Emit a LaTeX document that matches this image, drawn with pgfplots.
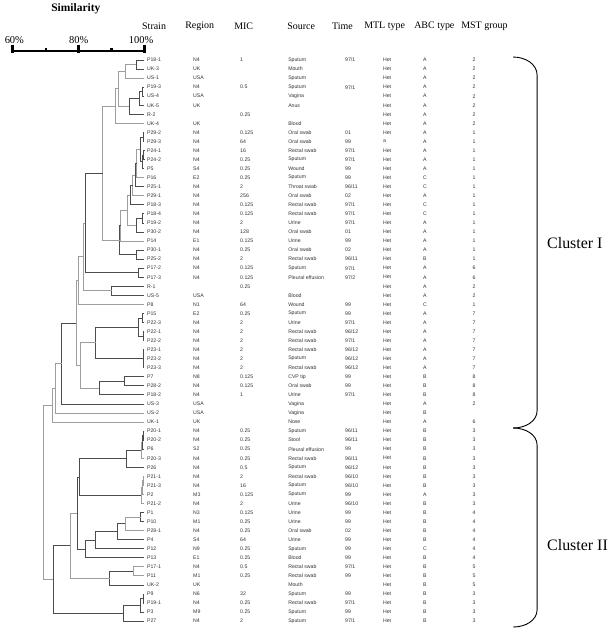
\documentclass[border=0pt]{standalone}
\usepackage{pgfplots}
\pgfplotsset{compat=1.18}
\usepackage{fontspec}
\setmainfont{Liberation Serif}
\newfontfamily\arialfont{Liberation Sans}
\definecolor{dk}{gray}{0.3}
\definecolor{lt}{gray}{0.62}
\newcommand{\nd}[6]{\addplot[#1, line width=0.8bp] coordinates {(#2,#3) (#4,#3) (#4,#5) (#6,#5)};}
\newcommand{\trow}[9]{%
\node[T] at (axis cs:100.8,#1) {#2};
\node[T] at (axis cs:114.8,#1) {#3};
\node[T] at (axis cs:129.1,#1) {#4};
\node[T] at (axis cs:143.7,#1) {#5};
\node[T] at (axis cs:161.0,#1) {#6};
\node[T] at (axis cs:172.5,#1) {#7};
\node[TC] at (axis cs:185.3,#1) {#8};
\node[TC] at (axis cs:200.2,#1) {#9};
}
\begin{document}
\begin{tikzpicture}[
  T/.style={anchor=west, inner sep=0pt, font=\fontsize{5.2}{6}\selectfont\arialfont, text=black!80},
  TC/.style={anchor=center, inner sep=0pt, font=\fontsize{5.2}{6}\selectfont\arialfont, text=black!80},
  H/.style={anchor=west, inner sep=0pt, font=\fontsize{10}{12}\selectfont}]
\begin{axis}[
  width=608bp, height=632bp, scale only axis,
  hide axis, clip=false,
  xmin=56.14, xmax=240.94,
  ymin=-5.63, ymax=64.2, y dir=reverse]
\path (rel axis cs:0,0) (rel axis cs:1,1);
% scale bar
\addplot[black, line width=2.7bp] coordinates {(60,0) (100,0)};
\addplot[black, line width=2.9bp] coordinates {(60,-0.7) (60,0.2)};
\addplot[black, line width=2.9bp] coordinates {(80,-0.7) (80,0.2)};
\addplot[black, line width=2.9bp] coordinates {(100,-0.7) (100,0.2)};
\addplot[black, line width=2.2bp] coordinates {(70,-0.35) (70,0.1)};
\addplot[black, line width=2.2bp] coordinates {(90,-0.35) (90,0.1)};
\node[font=\bfseries\fontsize{11.5}{13}\selectfont] at (axis cs:79.2,-4.64) {Similarity};
\node[font=\fontsize{10.5}{12}\selectfont] at (axis cs:60.5,-1.21) {60\%};
\node[font=\fontsize{10.5}{12}\selectfont] at (axis cs:80.1,-1.21) {80\%};
\node[font=\fontsize{10.5}{12}\selectfont] at (axis cs:99.0,-1.21) {100\%};
% headers
\node[H] at (axis cs:99.3,-2.76) {Strain};
\node[H] at (axis cs:112.4,-2.76) {Region};
\node[H] at (axis cs:127.3,-2.76) {MIC};
\node[H] at (axis cs:143.4,-2.76) {Source};
\node[H] at (axis cs:157.0,-2.76) {Time};
\node[H] at (axis cs:166.8,-2.76) {MTL type};
\node[H] at (axis cs:182.0,-2.76) {ABC type};
\node[H] at (axis cs:196.3,-2.76) {MST group};
% dendrogram
\nd{dk}{100}{1}{97.5}{2}{100}
\nd{lt}{97.5}{1.5}{94.3}{3}{100}
\nd{dk}{100}{4}{99.3}{5}{100}
\nd{dk}{99.3}{4.5}{98.4}{6}{100}
\nd{dk}{98.4}{5.25}{95.5}{7}{100}
\nd{lt}{94.3}{2.25}{92.0}{6.125}{95.5}
\nd{lt}{92.0}{4.1875}{91.2}{8}{100}
\nd{dk}{100}{9}{99.6}{10}{100}
\nd{dk}{100}{11}{99.8}{12}{100}
\nd{dk}{99.8}{11.5}{99.4}{13}{100}
\nd{dk}{99.6}{9.5}{98.8}{12.25}{99.4}
\nd{lt}{98.8}{10.875}{97.7}{14}{100}
\nd{dk}{97.7}{12.4375}{97.2}{15}{100}
\nd{lt}{97.2}{13.72}{96.5}{16}{100}
\nd{dk}{96.5}{14.86}{95.8}{17}{100}
\nd{dk}{100}{18}{99.3}{19}{100}
\nd{dk}{99.3}{18.5}{97.5}{20}{100}
\nd{lt}{95.8}{15.93}{95.0}{19.25}{97.5}
\nd{lt}{95.0}{17.59}{92.8}{21}{100}
\nd{dk}{100}{22}{97.6}{23}{100}
\nd{dk}{92.8}{19.3}{92.5}{22.5}{97.6}
\nd{lt}{91.2}{6.094}{87.4}{20.9}{92.5}
\nd{dk}{100}{24}{98.3}{25}{100}
\nd{dk}{87.4}{13.5}{82.1}{24.5}{98.3}
\nd{dk}{100}{26}{90.1}{27}{100}
\nd{lt}{82.1}{19.0}{81.4}{26.5}{90.1}
\nd{lt}{81.4}{22.75}{79.9}{28}{100}
\nd{dk}{100}{29}{99.5}{30}{100}
\nd{dk}{100}{31}{99.7}{32}{100}
\nd{dk}{99.5}{29.5}{98.2}{31.5}{99.7}
\nd{dk}{100}{33}{99.6}{35}{100}
\addplot[dk, line width=0.8bp] coordinates {(99.6,34) (100,34)};
\nd{dk}{98.2}{30.5}{85.2}{34}{99.6}
\nd{dk}{100}{36}{93.9}{37}{100}
\nd{dk}{93.9}{36.5}{86.3}{38}{100}
\nd{lt}{85.2}{32.25}{80.7}{37.25}{86.3}
\nd{lt}{79.9}{25.375}{79.3}{34.75}{80.7}
\nd{dk}{79.3}{30.06}{74.9}{39}{100}
\nd{lt}{74.9}{34.53}{72.9}{40}{100}
\nd{lt}{72.9}{37.27}{72.1}{41}{100}
\nd{dk}{100}{42}{99.6}{43}{100}
\nd{dk}{99.6}{42.5}{99.3}{44}{100}
\nd{lt}{99.3}{43.25}{99.0}{45}{100}
\nd{dk}{99.0}{44.125}{94.5}{46}{100}
\nd{lt}{100}{47}{99.6}{48}{100}
\nd{lt}{99.6}{47.5}{99.3}{49}{100}
\nd{lt}{99.3}{48.25}{99.0}{50}{100}
\nd{dk}{94.5}{45.06}{80.2}{49.125}{99.0}
\nd{dk}{100}{51}{98.9}{52}{100}
\nd{lt}{98.9}{51.5}{94.2}{53}{100}
\nd{dk}{94.2}{52.25}{91.7}{54}{100}
\nd{dk}{91.7}{53.125}{85.2}{55}{100}
\nd{dk}{85.2}{54.06}{82.0}{56}{100}
\nd{dk}{80.2}{47.09}{79.6}{55.03}{82.0}
\nd{lt}{100}{57}{96.6}{58}{100}
\nd{dk}{96.6}{57.5}{89.5}{59}{100}
\nd{lt}{79.6}{51.06}{77.4}{58.25}{89.5}
\nd{dk}{100}{60}{99.6}{61}{100}
\nd{dk}{99.6}{60.5}{98.7}{62}{100}
\nd{dk}{98.7}{61.25}{93.5}{63}{100}
\nd{dk}{77.4}{54.655}{72.4}{62.125}{93.5}
\nd{lt}{72.1}{39.13}{69.3}{58.39}{72.4}
% table
\trow{1}{P18-1}{N4}{1}{Sputum}{97/1}{Het}{A}{2}
\trow{2}{UK-3}{UK}{}{Mouth}{}{Het}{A}{2}
\trow{3}{US-1}{USA}{}{Sputum}{}{Het}{A}{2}
\trow{4}{P19-3}{N4}{0.5}{Sputum}{97/1}{Het}{A}{2}
\trow{5}{US-4}{USA}{}{Vagina}{}{Het}{A}{2}
\trow{6}{UK-5}{UK}{}{Anus}{}{Het}{A}{2}
\trow{7}{R-2}{}{0.25}{}{}{Het}{A}{2}
\trow{8}{UK-4}{UK}{}{Blood}{}{Het}{A}{2}
\trow{9}{P29-2}{N4}{0.125}{Oral swab}{01}{Het}{A}{1}
\trow{10}{P29-3}{N4}{64}{Oral swab}{99}{a}{A}{1}
\trow{11}{P24-1}{N4}{16}{Rectal swab}{97/1}{Het}{A}{1}
\trow{12}{P24-2}{N4}{0.25}{Sputum}{97/1}{Het}{A}{1}
\trow{13}{P5}{S4}{0.25}{Wound}{99}{Het}{A}{1}
\trow{14}{P16}{E2}{0.25}{Sputum}{99}{Het}{C}{1}
\trow{15}{P25-1}{N4}{2}{Throat swab}{96/11}{Het}{C}{1}
\trow{16}{P29-1}{N4}{256}{Oral swab}{02}{Het}{A}{1}
\trow{17}{P18-3}{N4}{0.125}{Rectal swab}{97/1}{Het}{C}{1}
\trow{18}{P18-4}{N4}{0.125}{Rectal swab}{97/1}{Het}{C}{1}
\trow{19}{P19-2}{N4}{2}{Urine}{97/1}{Het}{A}{1}
\trow{20}{P30-2}{N4}{128}{Oral swab}{01}{Het}{A}{1}
\trow{21}{P14}{E1}{0.125}{Urine}{99}{Het}{A}{1}
\trow{22}{P30-1}{N4}{0.25}{Oral swab}{02}{Het}{A}{1}
\trow{23}{P25-2}{N4}{2}{Rectal swab}{96/11}{Het}{B}{1}
\trow{24}{P17-2}{N4}{0.125}{Sputum}{97/1}{Het}{A}{6}
\trow{25}{P17-3}{N4}{0.125}{Pleural effusion}{97/2}{Het}{A}{6}
\trow{26}{R-1}{}{0.25}{}{}{Het}{A}{2}
\trow{27}{US-5}{USA}{}{Blood}{}{Het}{A}{2}
\trow{28}{P8}{N1}{64}{Wound}{99}{Het}{C}{1}
\trow{29}{P15}{E2}{0.25}{Sputum}{99}{Het}{A}{7}
\trow{30}{P22-3}{N4}{2}{Urine}{97/1}{Het}{A}{7}
\trow{31}{P22-1}{N4}{2}{Rectal swab}{96/12}{Het}{A}{7}
\trow{32}{P22-2}{N4}{2}{Rectal swab}{97/1}{Het}{A}{7}
\trow{33}{P23-1}{N4}{2}{Rectal swab}{96/12}{Het}{A}{7}
\trow{34}{P23-2}{N4}{2}{Sputum}{96/12}{Het}{A}{7}
\trow{35}{P23-3}{N4}{2}{Rectal swab}{96/12}{Het}{A}{7}
\trow{36}{P7}{N8}{0.125}{CVP tip}{99}{Het}{B}{8}
\trow{37}{P28-2}{N4}{0.125}{Oral swab}{99}{Het}{B}{8}
\trow{38}{P18-2}{N4}{1}{Urine}{97/1}{Het}{B}{8}
\trow{39}{US-3}{USA}{}{Vagina}{}{Het}{A}{2}
\trow{40}{US-2}{USA}{}{Vagina}{}{Het}{B}{}
\trow{41}{UK-1}{UK}{}{Nose}{}{Het}{A}{6}
\trow{42}{P20-1}{N4}{0.25}{Sputum}{96/11}{Het}{B}{3}
\trow{43}{P20-2}{N4}{0.25}{Stool}{96/11}{Het}{B}{3}
\trow{44}{P6}{S2}{0.25}{Pleural effusion}{99}{Het}{B}{3}
\trow{45}{P20-3}{N4}{0.25}{Rectal swab}{96/11}{Het}{B}{3}
\trow{46}{P26}{N4}{0.5}{Sputum}{96/12}{Het}{B}{3}
\trow{47}{P21-1}{N4}{2}{Rectal swab}{96/10}{Het}{B}{3}
\trow{48}{P21-3}{N4}{16}{Sputum}{96/10}{Het}{B}{3}
\trow{49}{P2}{M3}{0.125}{Sputum}{99}{Het}{A}{3}
\trow{50}{P21-2}{N4}{2}{Urine}{96/10}{Het}{B}{3}
\trow{51}{P1}{N3}{0.125}{Urine}{99}{Het}{B}{4}
\trow{52}{P10}{M1}{0.25}{Urine}{99}{Het}{B}{4}
\trow{53}{P28-1}{N4}{0.25}{Oral swab}{02}{Het}{B}{4}
\trow{54}{P4}{S4}{64}{Urine}{99}{Het}{B}{4}
\trow{55}{P12}{N9}{0.25}{Sputum}{99}{Het}{C}{4}
\trow{56}{P13}{E1}{0.25}{Blood}{99}{Het}{B}{4}
\trow{57}{P17-1}{N4}{0.5}{Rectal swab}{97/1}{Het}{B}{5}
\trow{58}{P11}{M1}{0.25}{Rectal swab}{99}{Het}{B}{5}
\trow{59}{UK-2}{UK}{}{Mouth}{}{Het}{B}{5}
\trow{60}{P9}{N6}{32}{Sputum}{99}{Het}{B}{3}
\trow{61}{P19-1}{N4}{0.25}{Rectal swab}{97/1}{Het}{B}{3}
\trow{62}{P3}{M9}{0.25}{Sputum}{99}{Het}{B}{3}
\trow{63}{P27}{N4}{2}{Sputum}{97/1}{Het}{B}{3}
% braces
\draw[black, line width=0.9bp] (axis cs:212.1,0.67) to[out=0,in=90] (axis cs:219.4,2.7) -- (axis cs:219.4,39.7) to[out=-90,in=0] (axis cs:212.1,41.66);
\draw[black, line width=0.9bp] (axis cs:212.1,41.66) to[out=0,in=90] (axis cs:219.4,43.6) -- (axis cs:219.4,61.7) to[out=-90,in=0] (axis cs:212.1,63.65);
\node[anchor=west, inner sep=0pt, font=\fontsize{16}{18}\selectfont] at (axis cs:222.4,21.2) {Cluster I};
\node[anchor=west, inner sep=0pt, font=\fontsize{16}{18}\selectfont] at (axis cs:222.4,54.6) {Cluster II};
\end{axis}
\end{tikzpicture}
\end{document}
